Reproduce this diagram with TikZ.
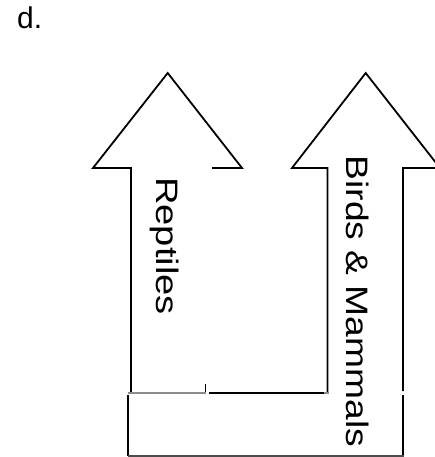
\documentclass[tikz,border=0pt]{standalone}
\usepackage{fontspec}
\setmainfont{Liberation Sans}
\begin{document}
\begin{tikzpicture}[x=1pt,y=-1pt,
  outline/.style={draw=black,line width=1.8pt,line join=miter},
  thin gray/.style={draw=black!45,line width=1.4pt},
  label/.style={inner sep=0pt,font=\fontsize{31}{37}\selectfont,rotate=-90,anchor=base west}]
\useasboundingbox (0,0) rectangle (435,457);
% letter
\node[inner sep=0pt,anchor=base west,font=\fontsize{30}{36}\selectfont] (d) at (17,29) {d.};
% left arrow
\draw[outline] (131,393) -- (131,168) -- (93,168) -- (167.7,73) -- (242,168) -- (212,168);
% right arrow
\draw[outline] (327.5,393) -- (327.5,168) -- (292,168) -- (365.7,73) -- (440,168) -- (403,168) -- (403,391);
\draw[outline] (403,394.5) -- (403,456);
% bottom connector
\draw[thin gray] (128,393) -- (206,393);
\draw[outline] (209,393) -- (324,393);
\draw[thin gray] (324,393) -- (329,393);
\draw[outline] (205.5,384) -- (205.5,392);
% box
\draw[outline] (128,395) -- (128,456);
\draw[draw=black!70,line width=1.5pt] (128,456) -- (403.9,456);
% labels
\node[label] (rept) at (156.5,177) {\scalebox{1.23}[1]{Reptiles}};
\node[label] (birds) at (346.5,155.5) {\scalebox{1.2}[1]{Birds \& Mammals}};
\end{tikzpicture}
\end{document}
